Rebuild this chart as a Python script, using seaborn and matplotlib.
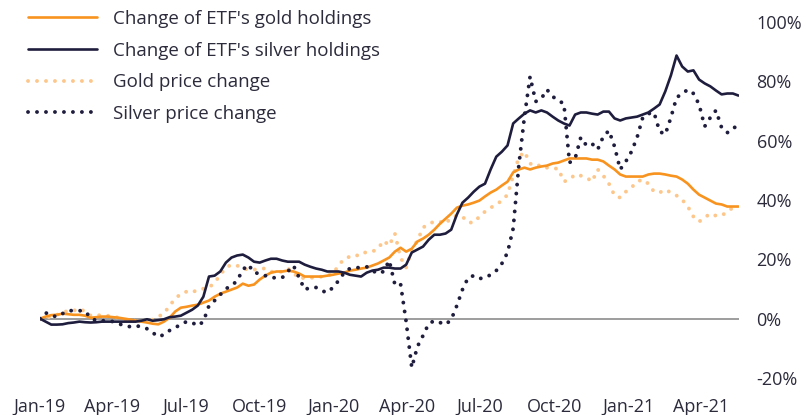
import numpy as np
import pandas as pd
import matplotlib
matplotlib.use("Agg")
import matplotlib.pyplot as plt
import seaborn as sns
from matplotlib.ticker import FuncFormatter

# weekly observations, % change since start of 2019
gold_holdings = [
    0, 0.7, 1.2, 1.3, 1.7, 1.5, 1.3, 1.3, 1.0, 0.3,
    0.5, 0.7, 0.7, 0.5, 0.3, 0, -0.3, -0.7, -1.0, -1.3,
    -1.7, -1.9, -1.0, 0.3, 2.4, 3.7, 4.0, 4.4, 4.7, 5.4,
    6.1, 7.4, 8.4, 9.1, 9.8, 10.5, 11.8, 11.1, 11.5, 13.2,
    14.5, 15.5, 15.9, 15.9, 16.2, 15.9, 15.2, 14.2, 14.2, 14.2,
    14.2, 14.5, 14.8, 15.2, 15.5, 16.2, 16.5, 16.9, 17.2, 17.9,
    18.6, 19.6, 20.6, 22.6, 23.9, 22.6, 23.6, 26.0, 27.0, 28.3,
    30.0, 32.0, 33.7, 35.4, 37.4, 38.1, 38.5, 39.1, 39.8, 41.2,
    42.5, 43.5, 44.9, 46.2, 49.3, 50.3, 50.9, 50.3, 50.9, 51.3,
    51.6, 52.3, 52.6, 53.3, 54.0, 54.0, 54.0, 54.0, 53.6, 53.6,
    53.0, 51.6, 50.3, 48.6, 47.9, 47.9, 47.9, 47.9, 48.6, 48.9,
    48.9, 48.6, 48.2, 47.9, 46.9, 45.5, 43.5, 41.8, 40.8, 39.8,
    38.8, 38.5, 37.8, 37.8, 37.8,
]
silver_holdings = [
    0, -1.0, -2.0, -2.0, -1.9, -1.5, -1.3, -1.0, -1.2, -1.3,
    -1.2, -1.0, -1.0, -1.0, -1.0, -1.0, -1.0, -1.0, -0.7, -0.2,
    -0.7, -0.5, -0.2, 0.5, 0.7, 1.0, 2.0, 3.0, 4.4, 7.4,
    14.2, 14.5, 15.9, 18.9, 20.6, 21.3, 21.6, 20.6, 19.2, 18.9,
    19.6, 20.2, 20.2, 19.6, 19.2, 19.2, 19.2, 18.2, 17.5, 16.9,
    16.5, 15.9, 15.9, 15.9, 15.5, 14.8, 14.5, 14.2, 15.5, 16.2,
    16.5, 17.2, 17.2, 16.9, 16.9, 18.2, 22.3, 23.3, 24.3, 26.6,
    28.3, 28.3, 28.7, 30.0, 35.1, 39.1, 40.8, 42.8, 44.5, 45.5,
    50.3, 54.6, 56.3, 58.4, 65.8, 67.5, 69.1, 70.2, 69.5, 70.2,
    69.5, 68.1, 66.8, 65.8, 65.1, 68.8, 69.5, 69.5, 69.1, 68.8,
    69.8, 69.8, 67.5, 66.8, 67.5, 67.8, 68.1, 68.8, 69.5, 70.8,
    72.2, 76.6, 82.0, 88.7, 85.0, 83.3, 83.7, 80.6, 79.3, 78.3,
    76.9, 75.6, 75.9, 75.9, 75.2,
]
gold_price = [
    0, 0.3, 0.7, 1.3, 2.0, 2.7, 2.7, 3.4, 2.4, 1.0,
    1.0, 1.3, 1.0, 0.7, 0.3, -0.3, -0.7, -0.7, -0.7, -0.7,
    -0.3, 0.7, 1.7, 4.4, 6.7, 8.4, 9.1, 8.8, 9.8, 10.1,
    10.5, 12.1, 14.8, 17.2, 18.2, 17.9, 16.9, 16.5, 16.5, 16.9,
    16.9, 15.9, 15.5, 15.9, 16.9, 15.5, 13.5, 13.8, 13.8, 13.8,
    14.2, 14.5, 15.2, 17.9, 20.2, 20.9, 20.9, 22.3, 22.3, 22.6,
    23.6, 26.3, 24.6, 28.7, 20.6, 17.2, 23.3, 26.3, 30.7, 32.0,
    32.7, 32.7, 32.0, 34.1, 34.7, 34.4, 32.4, 32.4, 34.4, 36.1,
    37.4, 38.5, 39.8, 41.8, 48.2, 54.3, 56.3, 52.3, 51.3, 51.9,
    50.9, 50.6, 50.6, 46.2, 46.9, 48.6, 48.2, 47.6, 46.2, 50.3,
    48.2, 45.5, 41.5, 40.8, 42.8, 44.2, 46.2, 46.9, 45.5, 42.8,
    42.5, 43.5, 42.5, 41.5, 40.1, 37.8, 34.4, 32.7, 34.1, 35.4,
    34.7, 34.7, 36.1, 37.4, 38.5,
]
silver_price = [
    0, 2.0, 1.0, 0.7, 1.7, 2.7, 2.7, 2.7, 2.5, 0.3,
    -0.7, -0.7, -0.7, -1.0, -1.7, -2.4, -2.7, -2.4, -2.7, -3.4,
    -4.7, -6.1, -5.4, -4.0, -3.0, -2.0, -1.0, -1.3, -2.4, -1.0,
    4.4, 6.1, 8.1, 10.1, 11.1, 12.8, 16.5, 18.2, 15.5, 15.2,
    14.5, 13.8, 13.8, 13.8, 15.9, 17.9, 13.8, 9.8, 10.5, 10.5,
    9.4, 8.8, 10.5, 12.8, 15.5, 16.9, 17.2, 17.2, 17.5, 16.2,
    15.2, 15.9, 19.6, 11.5, 11.8, -1.0, -16.5, -9.4, -5.7, -1.7,
    -0.7, -1.3, -2.0, -0.3, 4.4, 9.8, 13.8, 14.5, 13.5, 13.8,
    14.8, 16.2, 18.6, 22.3, 30.4, 51.6, 68.1, 81.6, 73.2, 74.2,
    77.2, 74.9, 73.5, 72.5, 52.6, 54.0, 61.1, 58.4, 59.0, 57.0,
    61.4, 63.4, 58.0, 50.3, 53.0, 56.3, 61.1, 67.8, 69.1, 69.5,
    63.1, 62.1, 67.8, 74.5, 75.9, 77.2, 75.9, 72.2, 64.8, 67.8,
    70.2, 64.4, 62.7, 63.7, 66.1,
]

series_labels = [
    "Change of ETF's gold holdings",
    "Change of ETF's silver holdings",
    "Gold price change",
    "Silver price change",
]
tick_dates = ["2019-01-01", "2019-04-01", "2019-07-01", "2019-10-01",
              "2020-01-01", "2020-04-01", "2020-07-01", "2020-10-01",
              "2021-01-01", "2021-04-01"]
tick_labels = ["Jan-19", "Apr-19", "Jul-19", "Oct-19", "Jan-20",
               "Apr-20", "Jul-20", "Oct-20", "Jan-21", "Apr-21"]
y_ticks = [-20, 0, 20, 40, 60, 80, 100]

dates = pd.date_range("2019-01-01", periods=len(gold_holdings), freq="7D")
df = pd.DataFrame({
    "date": dates,
    "gh": gold_holdings,
    "sh": silver_holdings,
    "gp": gold_price,
    "sp": silver_price,
})

sns.set_theme(style="white")
plt.rcParams["font.family"] = ["Open Sans", "DejaVu Sans"]

ORANGE = "#f7931e"
PEACH = "#fdc78c"
NAVY = "#1f1d3d"
TEXT = "#2c2b3c"

fig = plt.figure(figsize=(8.07, 4.15), dpi=100)
ax = fig.add_axes([40 / 807, 1 - 378 / 415, 698.5 / 807, 356 / 415])

ax.axhline(0, color="#8c8c8c", lw=1.2, zorder=1)

dot = (0, (0.01, 2.3))
sns.lineplot(data=df, x="date", y="gp", ax=ax, color=PEACH, lw=2.8,
             linestyle=dot, dash_capstyle="round", label=series_labels[2],
             zorder=2, legend=False)
sns.lineplot(data=df, x="date", y="gh", ax=ax, color=ORANGE, lw=1.9,
             label=series_labels[0], zorder=3, legend=False)
sns.lineplot(data=df, x="date", y="sh", ax=ax, color=NAVY, lw=1.9,
             label=series_labels[1], zorder=4, legend=False)
sns.lineplot(data=df, x="date", y="sp", ax=ax, color=NAVY, lw=2.8,
             linestyle=dot, dash_capstyle="round", label=series_labels[3],
             zorder=5, legend=False)

ax.set_xlim(dates[0], dates[-1])
ax.set_ylim(-20, 100)
ax.set_xlabel("")
ax.set_ylabel("")
for s in ax.spines.values():
    s.set_visible(False)

ax.set_xticks(pd.to_datetime(tick_dates))
ax.set_xticklabels(tick_labels)
ax.yaxis.tick_right()
ax.set_yticks(y_ticks)
ax.yaxis.set_major_formatter(FuncFormatter(lambda v, p: f"{v:.0f}%"))
ax.tick_params(axis="x", length=0, pad=14.5, labelsize=13, labelcolor=TEXT)
ax.tick_params(axis="y", length=0, pad=13, labelsize=13, labelcolor=TEXT)
ax.grid(False)

lines = {l.get_label(): l for l in ax.get_lines()}
handles = [lines[l] for l in series_labels]
leg = ax.legend(handles, series_labels, loc="upper left",
                bbox_to_anchor=(28 / 807, 0.976), bbox_transform=fig.transFigure,
                frameon=False, borderpad=0, borderaxespad=0,
                handlelength=3.7, handletextpad=0.85, labelspacing=0.73,
                fontsize=13.5)
for t in leg.get_texts():
    t.set_color(TEXT)

fig.savefig("out.png", dpi=100)
